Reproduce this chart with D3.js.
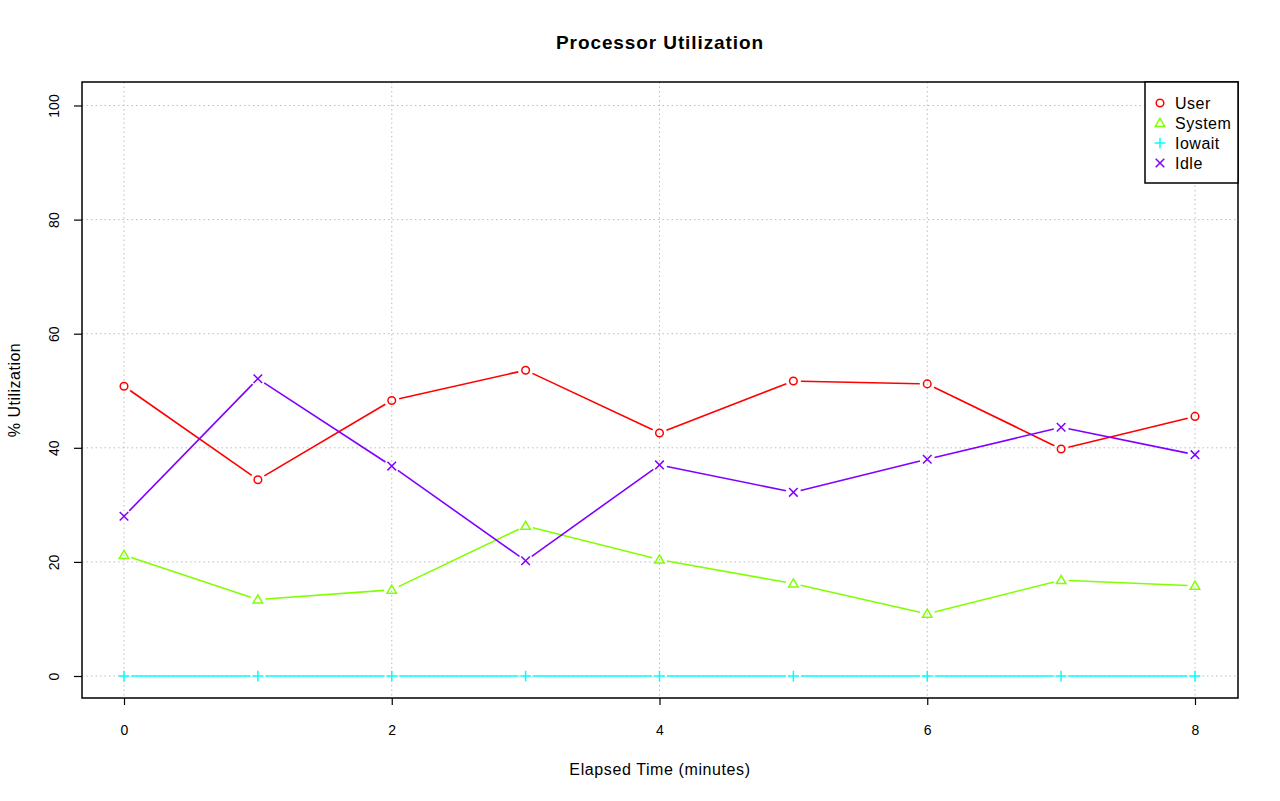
<!DOCTYPE html>
<html><head><meta charset="utf-8">
<script src="https://cdn.jsdelivr.net/npm/d3@7"></script>
<style>body{margin:0;background:#fff}text{font-family:"Liberation Sans",Arial,Helvetica,sans-serif}</style>
</head><body>
<script>
const minutes = [0,1,2,3,4,5,6,7,8];
const userVals = [50.8,34.4,48.3,53.6,42.6,51.7,51.2,39.8,45.5];
const systemVals = [21.2,13.4,15.1,26.3,20.4,16.2,10.9,16.8,15.8];
const iowaitVals = [0,0,0,0,0,0,0,0,0];
const idleVals = [28.0,52.1,36.8,20.2,37.0,32.2,38.0,43.6,38.8];
const seriesNames = ["User","System","Iowait","Idle"];
const seriesColors = ["#FF0000","#80FF00","#00FFFF","#8000FF"];
const seriesShapes = ["circle","triangle","plus","cross"];
const xTicks = [0,2,4,6,8];
const yTicks = [0,20,40,60,80,100];

const W=1280,H=801;
const box={l:82,r:1238,t:82,b:698};
const svg=d3.select("body").append("svg").attr("width",W).attr("height",H);
const x=d3.scaleLinear().domain([0,8]).range([124,1195]);
const y=d3.scaleLinear().domain([0,100]).range([676,105.5]);

// grid
const g=svg.append("g");
g.selectAll("line.vx").data(xTicks).join("line")
 .attr("x1",d=>x(d)).attr("x2",d=>x(d)).attr("y1",box.t).attr("y2",box.b)
 .attr("stroke","#bdbdbd").attr("stroke-dasharray","1.5,3");
g.selectAll("line.hy").data(yTicks).join("line")
 .attr("y1",d=>y(d)).attr("y2",d=>y(d)).attr("x1",box.l).attr("x2",box.r)
 .attr("stroke","#bdbdbd").attr("stroke-dasharray","1.5,3");

const series=[userVals,systemVals,iowaitVals,idleVals];

function sym(sel,shape,color){
  const s=4.3;
  if(shape==="circle") sel.append("circle").attr("r",3.8).attr("fill","none").attr("stroke",color).attr("stroke-width",1.5);
  else if(shape==="triangle"){
    const h=s*1.75;
    sel.append("path").attr("d",`M0,${-h*0.62}L${s*1.1},${h*0.45}L${-s*1.1},${h*0.45}Z`).attr("fill","none").attr("stroke",color).attr("stroke-width",1.5);
  } else if(shape==="plus"){
    sel.append("path").attr("d",`M${-s*1.25},0H${s*1.25}M0,${-s*1.25}V${s*1.25}`).attr("stroke",color).attr("stroke-width",1.5);
  } else {
    sel.append("path").attr("d",`M${-s},${-s}L${s},${s}M${-s},${s}L${s},${-s}`).attr("stroke",color).attr("stroke-width",1.5);
  }
}

const gap=7.5;
series.forEach((vals,i)=>{
  const col=seriesColors[i];
  const pts=minutes.map((m,k)=>[x(m),y(vals[k])]);
  const segs=[];
  for(let k=0;k<pts.length-1;k++){
    const [x1,y1]=pts[k],[x2,y2]=pts[k+1];
    const dx=x2-x1,dy=y2-y1,L=Math.hypot(dx,dy);
    if(L>2*gap) segs.push([x1+dx/L*gap,y1+dy/L*gap,x2-dx/L*gap,y2-dy/L*gap]);
  }
  svg.append("g").selectAll("line").data(segs).join("line")
   .attr("x1",d=>d[0]).attr("y1",d=>d[1]).attr("x2",d=>d[2]).attr("y2",d=>d[3])
   .attr("stroke",col).attr("stroke-width",1.6);
  pts.forEach(p=>{
    const gg=svg.append("g").attr("transform",`translate(${p[0]},${p[1]})`);
    sym(gg,seriesShapes[i],col);
  });
});

// box
svg.append("rect").attr("x",box.l).attr("y",box.t).attr("width",box.r-box.l).attr("height",box.b-box.t)
 .attr("fill","none").attr("stroke","#000").attr("stroke-width",1.5);

// axes
const xa=svg.append("g").attr("transform",`translate(0,${box.b})`)
 .call(d3.axisBottom(x).tickValues(xTicks).tickSize(7).tickPadding(20).tickFormat(d3.format("d")));
xa.attr("font-size",null).attr("font-family",null);
xa.select(".domain").remove();
xa.selectAll("text").style("font-size","14px").attr("fill","#000");
xa.selectAll("line").attr("stroke-width",1.2);
const ya=svg.append("g").attr("transform",`translate(${box.l},0)`)
 .call(d3.axisLeft(y).tickValues(yTicks).tickSize(8).tickFormat(d3.format("d")));
ya.attr("font-size",null).attr("font-family",null);
ya.select(".domain").remove();
ya.selectAll("line").attr("stroke-width",1.2);
ya.selectAll("text").style("font-size","14px").attr("fill","#000")
 .attr("x",null).attr("dy",null)
 .attr("transform","translate(-28,0) rotate(-90)").attr("text-anchor","middle").attr("dy","0.35em");

// titles
svg.append("text").attr("x",660).attr("y",49).attr("text-anchor","middle").style("font-size","19px").attr("letter-spacing","0.9px").attr("font-weight","bold").text("Processor Utilization");
svg.append("text").attr("x",660).attr("y",775).attr("text-anchor","middle").style("font-size","16px").attr("letter-spacing","0.6px").text("Elapsed Time (minutes)");
svg.append("text").attr("transform","translate(19.5,390) rotate(-90)").attr("text-anchor","middle").style("font-size","16px").attr("letter-spacing","0.5px").text("% Utilization");

// legend
svg.append("rect").attr("x",1145).attr("y",box.t).attr("width",box.r-1145).attr("height",101)
 .attr("fill","#fff").attr("stroke","#000").attr("stroke-width",1.5);
seriesNames.forEach((n,i)=>{
  const yy=103+i*20;
  const gg=svg.append("g").attr("transform",`translate(1160,${yy})`);
  sym(gg,seriesShapes[i],seriesColors[i]);
  svg.append("text").attr("x",1175).attr("y",yy).attr("dy","0.36em").style("font-size","16px").attr("letter-spacing","0.5px").text(n);
});
</script>
</body></html>
